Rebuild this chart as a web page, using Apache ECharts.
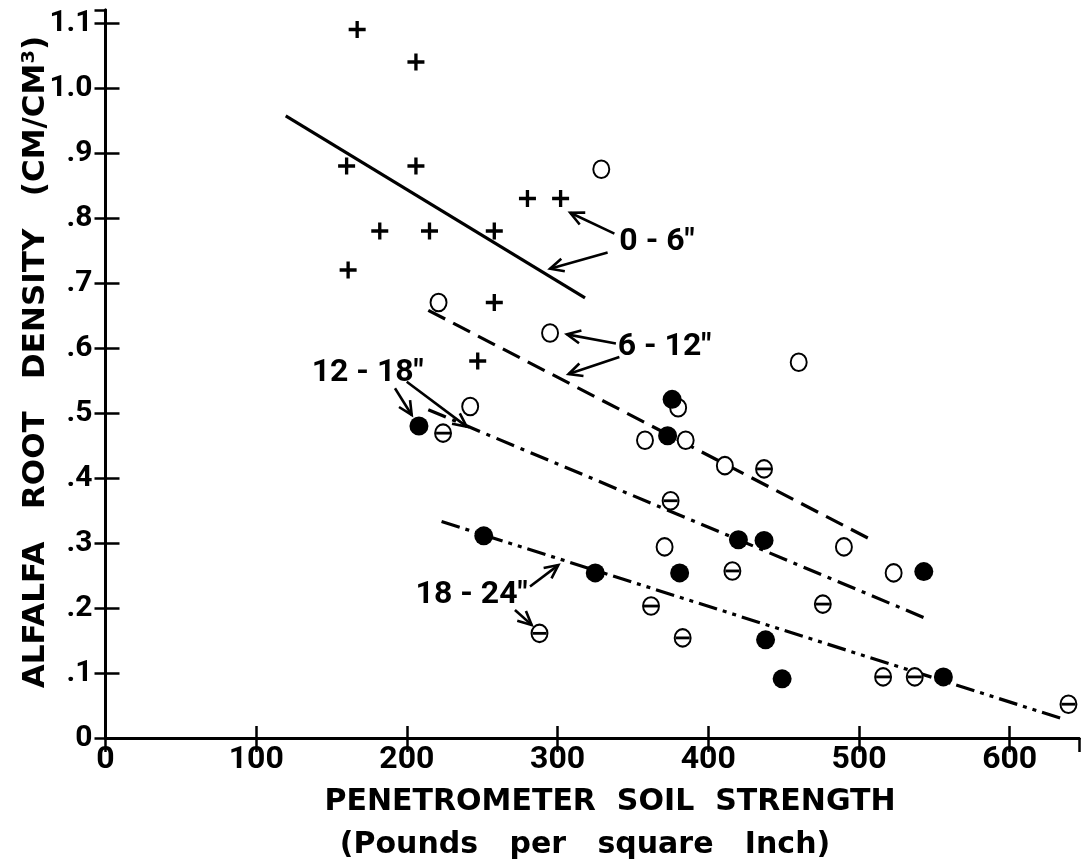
<!DOCTYPE html>
<html>
<head>
<meta charset="utf-8">
<script src="https://cdn.jsdelivr.net/npm/echarts@6/dist/echarts.min.js"></script>
<style>
html,body{margin:0;padding:0;background:#fff;}
#chart{width:1081px;height:862px;}
</style>
</head>
<body>
<div id="chart"></div>
<script>
// ---- tick labels ----
const xTickLabels = ['0','100','200','300','400','500','600'];
const yTickLabels = ['0','.1','.2','.3','.4','.5','.6','.7','.8','.9','1.0','1.1'];

// ---- data points (soil strength psi, root density cm/cm3) ----
const depth0to6 = [[167,1.09],[206,1.04],[160,0.88],[206,0.88],[280,0.83],[302,0.83],
  [182,0.78],[215,0.78],[258,0.78],[161,0.72],[258,0.67],[247,0.58]];
const depth6to12 = [[329,0.875],[221,0.67],[295,0.623],[460,0.578],[380,0.508],[358,0.458],
  [385,0.458],[411,0.419],[242,0.51],[371,0.294],[490,0.294],[523,0.254]];
const depth12to18 = [[208,0.48],[376,0.521],[373,0.465],[420,0.305],[437,0.304],[381,0.254],
  [543,0.256],[325,0.254],[251,0.311],[438,0.151],[449,0.091],[556,0.094]];
const depth18to24 = [[224,0.469],[288,0.161],[375,0.365],[437,0.414],[416,0.257],[362,0.203],
  [383,0.154],[476,0.206],[516,0.094],[537,0.094],[639,0.052]];

// ---- regression lines (end points) ----
const line0to6 = [[119.6,0.957],[318.2,0.677]];
const line6to12 = [[214.2,0.658],[510.6,0.302]];
const line12to18 = [[214.2,0.505],[543.3,0.185]];
const line18to24 = [[223,0.333],[634.5,0.030]];

// ---- annotations (data coordinates) ----
const labelText = ['0 - 6"','6 - 12"','12 - 18"','18 - 24"'];
const labelPos = [[366,0.763],[371,0.602],[174,0.562],[243,0.220]];
const arrows = [
  [337.7,0.776,308.4,0.808],[333.2,0.747,295,0.722],
  [338.7,0.607,306.2,0.621],[341,0.586,307.3,0.560],
  [192.1,0.538,203.2,0.497],[199.9,0.548,239.7,0.479],
  [281.7,0.233,300.5,0.266],[271.7,0.197,282.8,0.174]
];

const chart = echarts.init(document.getElementById('chart'), null, {renderer:'canvas'});

function xFmt(v){ const i = v/100; return Number.isInteger(i) && xTickLabels[i] !== undefined ? xTickLabels[i] : ''; }
function yFmt(v){ const r = v*10; const i = Math.round(r); return Math.abs(r-i) < 1e-6 && yTickLabels[i] !== undefined ? yTickLabels[i] : ''; }

const axisLine = {show:true, lineStyle:{color:'#000', width:3}};
function xAx(pos, showLabel, tickLen){
  return {type:'value', position:pos, min:0, max:646, interval:100,
    axisLine:axisLine, splitLine:{show:false},
    axisTick:{show:true, inside:true, length:tickLen, lineStyle:{color:'#000', width:2.5}},
    axisLabel:{show:showLabel, margin:6, formatter:xFmt, showMaxLabel:false,
      fontFamily:'Roboto', fontWeight:'bold', fontSize:32, color:'#000'}};
}
function yAx(pos, showLabel, tickLen){
  return {type:'value', position:pos, min:0, max:1.12, interval:0.1,
    axisLine:axisLine, splitLine:{show:false},
    axisTick:{show:true, inside:true, length:tickLen, lineStyle:{color:'#000', width:2.5}},
    axisLabel:{show:showLabel, margin:13, formatter:yFmt, showMaxLabel:false,
      fontFamily:'Roboto', fontWeight:'bold', fontSize:30, color:'#000'}};
}

function lineSeries(data, type){
  return {type:'line', data:data, symbol:'none', silent:true, z:2,
    lineStyle:{color:'#000', width:3.2, type:type, cap:'butt', opacity:1}};
}

const plusPath = 'path://M7,0H10.4V7H17.4V10.4H10.4V17.4H7V10.4H0V7H7Z';

chart.setOption({
  animation:false,
  backgroundColor:'#fff',
  grid:{left:105.5, right:2, top:10, bottom:124, containLabel:false},
  xAxis:[xAx('bottom', true, 12), xAx('top', false, 14)],
  yAxis:[yAx('left', true, 14), yAx('right', false, 11)],
  series:[
    lineSeries(line0to6, 'solid'),
    lineSeries(line6to12, [19,9]),
    lineSeries(line12to18, [19,7,4,7]),
    lineSeries(line18to24, [19,6,4,6,4,6]),
    {type:'scatter', name:'0-6"', data:depth0to6, symbol:plusPath, symbolSize:17, z:5,
      itemStyle:{color:'#000', opacity:1}},
    {type:'scatter', name:'6-12"', data:depth6to12, symbol:'emptyCircle', symbolSize:[16,17.5], z:5,
      itemStyle:{color:'#000', borderColor:'#000', borderWidth:3, opacity:1}},
    {type:'scatter', name:'18-24"', data:depth18to24, symbol:'emptyCircle', symbolSize:[16,17.5], z:5,
      itemStyle:{color:'#000', borderColor:'#000', borderWidth:2.8, opacity:1}},
    {type:'scatter', name:'18-24" bar', data:depth18to24, symbol:'rect', symbolSize:[14,2.8], z:6, silent:true,
      itemStyle:{color:'#000', opacity:1}},
    {type:'scatter', name:'12-18"', data:depth12to18, symbol:'circle', symbolSize:19, z:7,
      itemStyle:{color:'#000', opacity:1}},
    {type:'custom', name:'arrows', data:arrows, z:8, silent:true,
      encode:{x:[0,2], y:[1,3]},
      renderItem:function(params, api){
        const p1 = api.coord([api.value(0), api.value(1)]);
        const p2 = api.coord([api.value(2), api.value(3)]);
        const ang = Math.atan2(p2[1]-p1[1], p2[0]-p1[0]);
        const L = 15, a = 0.45;
        const h1 = [p2[0]-L*Math.cos(ang-a), p2[1]-L*Math.sin(ang-a)];
        const h2 = [p2[0]-L*Math.cos(ang+a), p2[1]-L*Math.sin(ang+a)];
        return {type:'group', children:[
          {type:'line', shape:{x1:p1[0], y1:p1[1], x2:p2[0], y2:p2[1]}, style:{stroke:'#000', lineWidth:2.6}},
          {type:'polyline', shape:{points:[h1, p2, h2]}, style:{stroke:'#000', lineWidth:2.6, fill:null}}
        ]};
      }},
    {type:'custom', name:'labels', data:labelPos, z:9, silent:true,
      renderItem:function(params, api){
        const p = api.coord([api.value(0), api.value(1)]);
        return {type:'text', x:p[0], y:p[1], style:{text:labelText[params.dataIndex],
          fill:'#000', font:'bold 32px Roboto', align:'center', verticalAlign:'middle'}};
      }}
  ],
  graphic:[
    {type:'text', x:610, y:802, style:{text:'PENETROMETER  SOIL  STRENGTH', fill:'#000',
      font:'bold 30px "DejaVu Sans"', align:'center', verticalAlign:'middle'}},
    {type:'text', x:585, y:845, style:{text:'(Pounds   per   square   Inch)', fill:'#000',
      font:'bold 30px "DejaVu Sans"', align:'center', verticalAlign:'middle'}},
    {type:'text', x:36, y:362, rotation:Math.PI/2, style:{text:'ALFALFA   ROOT   DENSITY   (CM/CM³)', fill:'#000',
      font:'bold 31px "DejaVu Sans"', align:'center', verticalAlign:'middle'}}
  ]
});
</script>
</body>
</html>
